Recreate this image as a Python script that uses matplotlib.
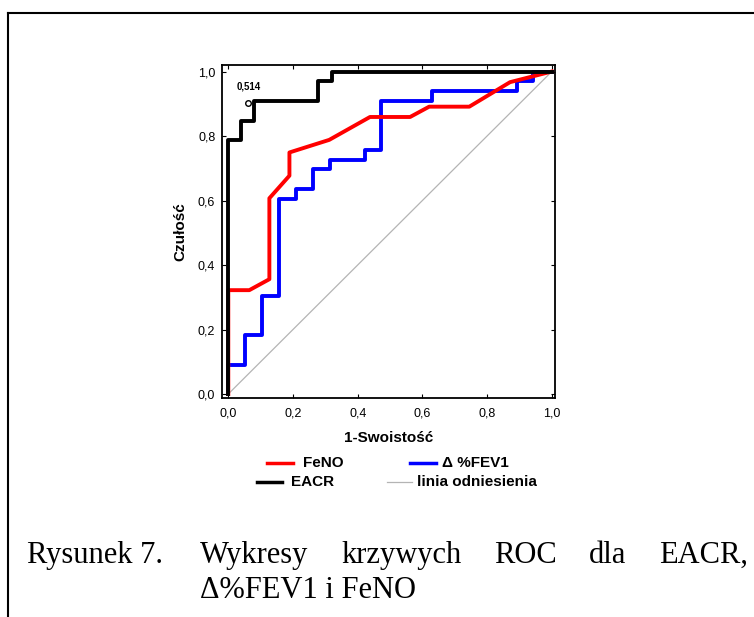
import numpy as np
import matplotlib
matplotlib.use('Agg')
import matplotlib.pyplot as plt
from matplotlib.lines import Line2D

plt.rcParams['font.family'] = ['Liberation Sans', 'DejaVu Sans']

# ROC data (x = 1 - specificity, y = sensitivity)
eacr_x = [0.0, 0.0, 0.039, 0.078, 0.278, 0.320, 1.0]
eacr_y = [0.0, 0.788, 0.848, 0.909, 0.970, 1.0, 1.0]

fev_x = [0.0, 0.0, 0.052, 0.105, 0.158, 0.209, 0.263, 0.314, 0.423, 0.472, 0.629, 0.891, 0.943, 1.0]
fev_y = [0.0, 0.091, 0.182, 0.303, 0.606, 0.636, 0.697, 0.727, 0.758, 0.909, 0.939, 0.970, 1.0, 1.0]

feno_x = [0.0, 0.0, 0.065, 0.127, 0.127, 0.189, 0.189, 0.312, 0.438, 0.562, 0.621, 0.745, 0.871, 1.0]
feno_y = [0.0, 0.322, 0.322, 0.356, 0.607, 0.677, 0.749, 0.788, 0.859, 0.859, 0.891, 0.891, 0.967, 1.0]

ref_x = [0.0, 1.0]
ref_y = [0.0, 1.0]

cutoff_x = 0.062
cutoff_y = 0.901
cutoff_label = '0,514'

ticks = [0.0, 0.2, 0.4, 0.6, 0.8, 1.0]
tick_labels = ['0,0', '0,2', '0,4', '0,6', '0,8', '1,0']

W, H = 754, 617
fig = plt.figure(figsize=(W / 100, H / 100), dpi=100)
ax = fig.add_axes([222.3 / W, 1 - 398 / H, (555 - 222.3) / W, (398 - 65) / H])

ax.plot(ref_x, ref_y, color='#b4b4b4', lw=0.9, zorder=1)
ax.step(fev_x, fev_y, where='post', color='#0000ff', lw=2.8, zorder=2)
ax.plot(feno_x, feno_y, color='#ff0000', lw=2.8, zorder=3)
ax.step(eacr_x, eacr_y, where='post', color='black', lw=2.8, zorder=4)

ax.plot([cutoff_x], [cutoff_y], 'o', mfc='none', mec='black', ms=4, mew=1.0, zorder=5)
ax.text(cutoff_x, cutoff_y + 0.052, cutoff_label, fontsize=7, fontweight='bold',
        ha='center', va='center')

ax.set_xlim(-0.0185, 1.0099)
ax.set_ylim(-0.0124, 1.0202)
ax.set_xticks(ticks)
ax.set_xticklabels(tick_labels)
ax.set_yticks(ticks)
ax.set_yticklabels(tick_labels)
ax.tick_params(direction='in', length=3, width=0.8, top=True, right=True,
               labelsize=9, colors='black')
ax.tick_params(axis='x', pad=7)
ax.tick_params(axis='y', pad=5)
for s in ax.spines.values():
    s.set_linewidth(1.3)

ax.set_xlabel('1-Swoistość', fontsize=11, fontweight='bold')
ax.set_ylabel('Czułość', fontsize=11, fontweight='bold')
ax.xaxis.label.set_va('center')
ax.yaxis.label.set_va('center')
ax.xaxis.set_label_coords(0.5, (398 - 438) / 333)
ax.yaxis.set_label_coords((180 - 222.3) / 332.7, 0.5)

# legend drawn by hand (two uneven columns)
legend_items = [
    ('FeNO', '#ff0000', 2.5, 267, 293, 302.7, 462.7),
    ('Δ %FEV1', '#0000ff', 2.5, 410, 436, 441.7, 462.7),
    ('EACR', 'black', 2.5, 256.7, 281.7, 291, 482.3),
    ('linia odniesienia', '#b4b4b4', 0.9, 386.7, 411.7, 416.7, 482.3),
]
for label, col, lw, x0, x1, xt, yc in legend_items:
    fig.add_artist(Line2D([x0 / W, x1 / W], [1 - yc / H, 1 - yc / H], color=col, lw=lw))
    fig.text(xt / W, 1 - yc / H, label, fontsize=11, fontweight='bold', ha='left', va='center')

# page border
fig.add_artist(Line2D([7.5 / W, 1.0], [1 - 12.5 / H, 1 - 12.5 / H], color='black', lw=1.5))
fig.add_artist(Line2D([7.5 / W, 7.5 / W], [0.0, 1 - 12.5 / H], color='black', lw=1.5))

# caption, first line justified
cap_font = dict(family='Liberation Serif', fontsize=22)
fig.text(27 / W, 1 - 563 / H, 'Rysunek 7.', ha='left', va='baseline', **cap_font)
words = ['Wykresy', 'krzywych', 'ROC', 'dla', 'EACR,']
x_start, x_end = 200, 748
renderer = fig.canvas.get_renderer()
arts = [fig.text(0, 1 - 563 / H, w, ha='left', va='baseline', **cap_font) for w in words]
widths = [a.get_window_extent(renderer).width for a in arts]
gap = (x_end - x_start - sum(widths)) / (len(words) - 1)
xpos = x_start
for a, w in zip(arts, widths):
    a.set_x(xpos / W)
    xpos += w + gap
fig.text(x_start / W, 1 - 598 / H, 'Δ%FEV1 i FeNO', ha='left', va='baseline', **cap_font)

fig.savefig('out.png', dpi=100)
